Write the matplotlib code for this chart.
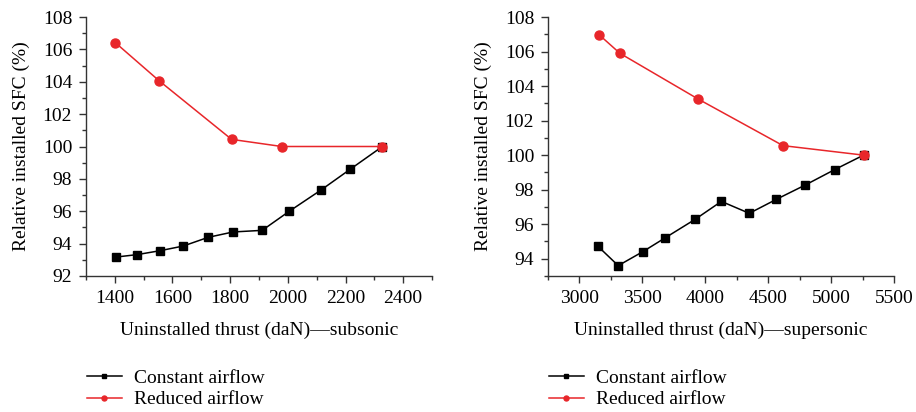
import matplotlib
matplotlib.use("Agg")
import matplotlib.pyplot as plt
from matplotlib.ticker import MultipleLocator

# subsonic panel
sub_const_x = [1404, 1477, 1556, 1637, 1724, 1810, 1911, 2005, 2115, 2216, 2328]
sub_const_y = [93.17, 93.32, 93.56, 93.85, 94.39, 94.72, 94.82, 96.0, 97.31, 98.59, 100.0]
sub_red_x = [1402, 1553, 1805, 1979, 2328]
sub_red_y = [106.41, 104.07, 100.44, 100.0, 100.0]

# supersonic panel
sup_const_x = [3147, 3308, 3504, 3679, 3919, 4128, 4350, 4565, 4795, 5028, 5258]
sup_const_y = [94.72, 93.60, 94.41, 95.20, 96.28, 97.32, 96.63, 97.44, 98.27, 99.16, 100.0]
sup_red_x = [3155, 3321, 3943, 4618, 5258]
sup_red_y = [106.98, 105.90, 103.25, 100.55, 100.0]

sub_xticks = [1400, 1600, 1800, 2000, 2200, 2400]
sup_xticks = [3000, 3500, 4000, 4500, 5000, 5500]

labels = ["Constant airflow", "Reduced airflow"]
red = "#e8262a"

plt.rcParams["font.family"] = ["Liberation Serif", "DejaVu Serif"]
plt.rcParams["font.size"] = 14

fig = plt.figure(figsize=(9.16, 4.12), dpi=100)
W, H = 916, 412


def make_ax(x0, x1, y0, y1):
    return fig.add_axes([x0 / W, 1 - y1 / H, (x1 - x0) / W, (y1 - y0) / H])


panels = [
    (make_ax(86, 432, 17, 276), sub_const_x, sub_const_y, sub_red_x, sub_red_y,
     (1300, 2500), (92, 108), sub_xticks, 100, "Uninstalled thrust (daN)\u2014subsonic"),
    (make_ax(548, 894, 17, 276), sup_const_x, sup_const_y, sup_red_x, sup_red_y,
     (2750, 5500), (93, 108), sup_xticks, 250, "Uninstalled thrust (daN)\u2014supersonic"),
]

for ax, cx, cy, rx, ry, xlim, ylim, xticks, xminor, xlabel in panels:
    ax.plot(cx, cy, color="black", lw=1.1, marker="s", ms=5.5, label=labels[0])
    ax.plot(rx, ry, color=red, lw=1.1, marker="o", ms=6.5, label=labels[1], zorder=3)
    ax.set_xlim(*xlim)
    ax.set_ylim(*ylim)
    ax.set_xticks(xticks)
    ax.xaxis.set_minor_locator(MultipleLocator(xminor))
    ax.yaxis.set_major_locator(MultipleLocator(2))
    ax.yaxis.set_minor_locator(MultipleLocator(1))
    for s in ["top", "right"]:
        ax.spines[s].set_visible(False)
    for s in ["left", "bottom"]:
        ax.spines[s].set_color("#333333")
        ax.spines[s].set_linewidth(1.0)
    ax.tick_params(which="major", length=5, width=1, color="#333333", pad=5)
    ax.tick_params(which="minor", length=3, width=1, color="#333333")
    ax.set_xlabel(xlabel, labelpad=11)
    ax.set_ylabel("Relative installed SFC (%)", labelpad=9)
    ax.legend(loc="upper left", bbox_to_anchor=(-0.02, -0.33), frameon=False,
              handlelength=1.8, handletextpad=0.6, labelspacing=0.2,
              markerscale=0.55, borderaxespad=0)

fig.savefig("out.png", dpi=100)
